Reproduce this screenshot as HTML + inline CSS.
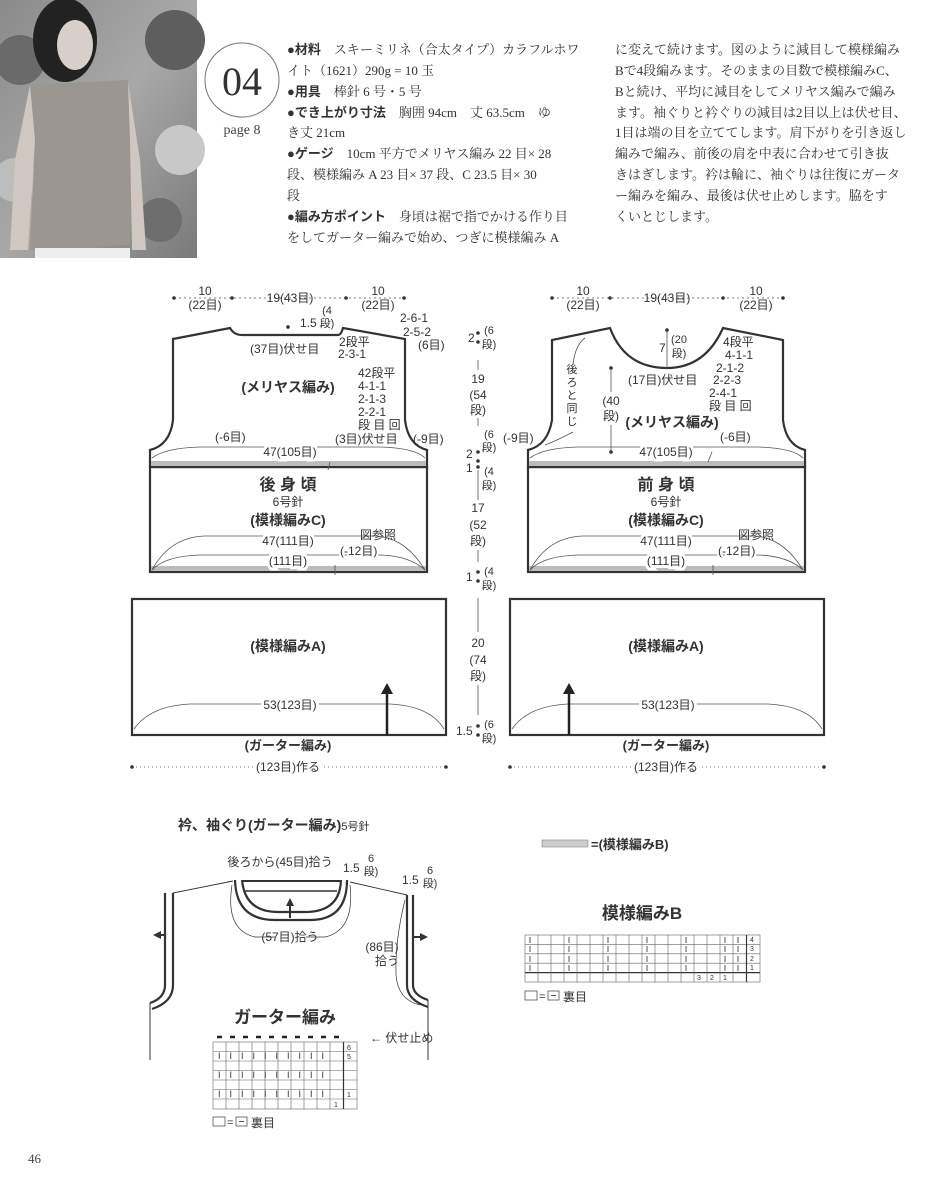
<!DOCTYPE html>
<html><head><meta charset="utf-8"><style>
html,body{margin:0;padding:0;background:#fff;}
svg{display:block;}
.s{font-family:"Liberation Sans","Noto Sans CJK JP",sans-serif;fill:#333;}
.j{font-family:"Liberation Serif","Noto Serif CJK SC",serif;fill:#333;font-size:13px;}
.b{font-weight:bold;}
</style></head><body>
<svg width="951" height="1200" viewBox="0 0 951 1200" xmlns="http://www.w3.org/2000/svg">
<defs>
<linearGradient id="pg" x1="0" y1="0" x2="1" y2="1"><stop offset="0" stop-color="#8a8a8a"/><stop offset="0.5" stop-color="#a8a8a8"/><stop offset="1" stop-color="#7a7a7a"/></linearGradient>
</defs>
<rect x="0" y="0" width="197" height="258" fill="url(#pg)"/>
<circle cx="20" cy="60" r="25" fill="#6a6a6a"/><circle cx="175" cy="40" r="30" fill="#5e5e5e"/><circle cx="180" cy="150" r="25" fill="#c8c8c8"/><circle cx="15" cy="180" r="22" fill="#bdbdbd"/><circle cx="160" cy="220" r="22" fill="#6e6e6e"/>
<ellipse cx="65" cy="40" rx="32" ry="42" fill="#222"/>
<ellipse cx="75" cy="45" rx="18" ry="25" fill="#d8d0c8"/>
<path d="M30 85 L128 80 L132 140 L130 245 L30 250 L35 140 Z" fill="#9c9690"/>
<path d="M30 85 L15 160 L10 250 L28 250 L35 140 Z" fill="#d0c8c0"/>
<path d="M128 82 L140 160 L146 250 L132 250 L130 140 Z" fill="#d0c8c0"/>
<rect x="35" y="248" width="95" height="10" fill="#eee"/>
<circle cx="242" cy="80" r="37" fill="none" stroke="#777" stroke-width="1"/>
<text x="242" y="95" text-anchor="middle" style="font-family:'Liberation Serif',serif;font-size:40px;fill:#333">04</text>
<text x="242" y="134" text-anchor="middle" style="font-family:'Liberation Serif',serif;font-size:14px;fill:#444">page 8</text>
<g class="j">
<text x="287" y="54"><tspan class="s b" style="font-size:13px">●材料</tspan>　スキーミリネ（合太タイプ）カラフルホワ</text>
<text x="287" y="75">イト（1621）290g = 10 玉</text>
<text x="287" y="96"><tspan class="s b" style="font-size:13px">●用具</tspan>　棒針 6 号・5 号</text>
<text x="287" y="117"><tspan class="s b" style="font-size:13px">●でき上がり寸法</tspan>　胸囲 94cm　丈 63.5cm　ゆ</text>
<text x="287" y="137">き丈 21cm</text>
<text x="287" y="158"><tspan class="s b" style="font-size:13px">●ゲージ</tspan>　10cm 平方でメリヤス編み 22 目× 28</text>
<text x="287" y="179">段、模様編み A 23 目× 37 段、C 23.5 目× 30</text>
<text x="287" y="200">段</text>
<text x="287" y="221"><tspan class="s b" style="font-size:13px">●編み方ポイント</tspan>　身頃は裾で指でかける作り目</text>
<text x="287" y="242">をしてガーター編みで始め、つぎに模様編み A</text>
<text x="615" y="54">に変えて続けます。図のように減目して模様編み</text>
<text x="615" y="75">Bで4段編みます。そのままの目数で模様編みC、</text>
<text x="615" y="96">Bと続け、平均に減目をしてメリヤス編みで編み</text>
<text x="615" y="117">ます。袖ぐりと衿ぐりの減目は2目以上は伏せ目、</text>
<text x="615" y="137">1目は端の目を立ててします。肩下がりを引き返し</text>
<text x="615" y="158">編みで編み、前後の肩を中表に合わせて引き抜</text>
<text x="615" y="179">きはぎします。衿は輪に、袖ぐりは往復にガータ</text>
<text x="615" y="200">ー編みを編み、最後は伏せ止めします。脇をす</text>
<text x="615" y="221">くいとじします。</text>
</g>

<g fill="none" stroke="#333" stroke-width="2.2">
<path d="M173 339 L230 328 Q234 335 242 335 L338 335 Q341 335 343 328 L405 339 L405 420 Q408 445 427 450 L427 467 L150 467 L150 450 Q170 445 173 420 Z"/>
<rect x="150" y="467" width="277" height="105"/>
<rect x="132" y="599" width="314" height="136"/>
<path d="M528 467 L528 450 Q548 445 552 420 L552 340 L610 328 Q625 368 667 368 Q705 368 723 328 L783 340 L783 420 Q786 445 805 450 L805 467 Z"/>
<rect x="528" y="467" width="277" height="105"/>
<rect x="510" y="599" width="314" height="136"/>
</g>
<g fill="#bbb">
<rect x="151" y="461" width="275" height="5"/><rect x="151" y="566" width="275" height="5"/>
<rect x="529" y="461" width="275" height="5"/><rect x="529" y="566" width="275" height="5"/>
</g>
<g fill="none" stroke="#555" stroke-width="0.8">
<path d="M152 458 Q165 448 200 447 L380 447 Q415 448 425 458"/>
<path d="M152 570 Q170 537 205 536 L375 536 Q405 537 425 570"/>
<path d="M152 570 Q165 556 200 555 L380 555 Q410 556 425 570"/>
<path d="M134 729 Q150 706 190 704 L390 704 Q430 706 444 729"/>
<path d="M530 458 Q543 448 578 447 L758 447 Q793 448 803 458"/>
<path d="M530 570 Q548 537 583 536 L753 536 Q783 537 803 570"/>
<path d="M530 570 Q543 556 578 555 L758 555 Q788 556 803 570"/>
<path d="M512 729 Q528 706 568 704 L768 704 Q808 706 822 729"/>
<line x1="132" y1="767" x2="446" y2="767" stroke-dasharray="1 3"/>
<line x1="510" y1="767" x2="824" y2="767" stroke-dasharray="1 3"/>
<line x1="174" y1="298" x2="404" y2="298" stroke-dasharray="2 3"/>
<line x1="552" y1="298" x2="783" y2="298" stroke-dasharray="2 3"/>
<line x1="478" y1="360" x2="478" y2="370"/><line x1="478" y1="418" x2="478" y2="426"/><line x1="478" y1="470" x2="478" y2="500"/><line x1="478" y1="550" x2="478" y2="562"/><line x1="478" y1="598" x2="478" y2="632"/><line x1="478" y1="685" x2="478" y2="715"/>
<line x1="667" y1="330" x2="667" y2="368"/><line x1="611" y1="370" x2="611" y2="392"/><line x1="611" y1="425" x2="611" y2="452"/>
<path d="M573 432 Q558 440 545 445"/><path d="M573 365 Q575 345 585 338"/>
<path d="M328 470 L330 462"/><path d="M335 565 L335 575"/>
<path d="M708 462 L712 452"/><path d="M713 565 L713 575"/>
</g>
<g fill="#333">
<circle cx="174" cy="298" r="1.8"/><circle cx="232" cy="298" r="1.8"/><circle cx="346" cy="298" r="1.8"/><circle cx="404" cy="298" r="1.8"/>
<circle cx="552" cy="298" r="1.8"/><circle cx="610" cy="298" r="1.8"/><circle cx="723" cy="298" r="1.8"/><circle cx="783" cy="298" r="1.8"/>
<circle cx="132" cy="767" r="1.8"/><circle cx="446" cy="767" r="1.8"/><circle cx="510" cy="767" r="1.8"/><circle cx="824" cy="767" r="1.8"/>
<circle cx="478" cy="333" r="1.8"/><circle cx="478" cy="342" r="1.8"/><circle cx="478" cy="452" r="1.8"/><circle cx="478" cy="461" r="1.8"/><circle cx="478" cy="467" r="1.8"/><circle cx="478" cy="572" r="1.8"/><circle cx="478" cy="581" r="1.8"/><circle cx="478" cy="726" r="1.8"/><circle cx="478" cy="735" r="1.8"/>
<circle cx="288" cy="327" r="1.8"/><circle cx="667" cy="330" r="1.8"/><circle cx="611" cy="368" r="1.8"/><circle cx="611" cy="452" r="1.8"/>
</g>
<g stroke="#222" stroke-width="2.5"><line x1="387" y1="735" x2="387" y2="692"/><line x1="569" y1="735" x2="569" y2="692"/></g>
<g fill="#222"><path d="M381 694 L387 683 L393 694 Z"/><path d="M563 694 L569 683 L575 694 Z"/></g>

<g class="s" font-size="12">
<text x="205" y="295" text-anchor="middle">10</text><text x="205" y="309" text-anchor="middle">(22目)</text>
<text x="290" y="302" text-anchor="middle">19(43目)</text>
<text x="378" y="295" text-anchor="middle">10</text><text x="378" y="309" text-anchor="middle">(22目)</text>
<text x="583" y="295" text-anchor="middle">10</text><text x="583" y="309" text-anchor="middle">(22目)</text>
<text x="667" y="302" text-anchor="middle">19(43目)</text>
<text x="756" y="295" text-anchor="middle">10</text><text x="756" y="309" text-anchor="middle">(22目)</text>
<text x="327" y="314" text-anchor="middle" font-size="11">(4</text><text x="327" y="327" text-anchor="middle" font-size="11">段)</text>
<text x="300" y="327">1.5</text>
<text x="400" y="322">2-6-1</text><text x="403" y="336">2-5-2</text><text x="418" y="349">(6目)</text>
<text x="250" y="353">(37目)伏せ目</text><text x="339" y="346">2段平</text><text x="338" y="358">2-3-1</text>
<text x="358" y="377">42段平</text><text x="358" y="390">4-1-1</text><text x="358" y="403">2-1-3</text><text x="358" y="416">2-2-1</text><text x="358" y="429">段 目 回</text>
<text x="335" y="443">(3目)伏せ目</text><text x="413" y="443">(-9目)</text><text x="215" y="441">(-6目)</text>
<text x="290" y="456" text-anchor="middle" paint-order="stroke" stroke="#fff" stroke-width="6">47(105目)</text>
<text x="288" y="392" text-anchor="middle" class="b" font-size="14">(メリヤス編み)</text>
<text x="288" y="490" text-anchor="middle" class="b" font-size="16">後 身 頃</text>
<text x="288" y="506" text-anchor="middle">6号針</text>
<text x="288" y="525" text-anchor="middle" class="b" font-size="14">(模様編みC)</text>
<text x="360" y="539">図参照</text>
<text x="288" y="545" text-anchor="middle" paint-order="stroke" stroke="#fff" stroke-width="6">47(111目)</text>
<text x="340" y="555" paint-order="stroke" stroke="#fff" stroke-width="4">(-12目)</text>
<text x="288" y="565" text-anchor="middle" paint-order="stroke" stroke="#fff" stroke-width="6">(111目)</text>
<text x="288" y="651" text-anchor="middle" class="b" font-size="14">(模様編みA)</text>
<text x="290" y="709" text-anchor="middle" paint-order="stroke" stroke="#fff" stroke-width="6">53(123目)</text>
<text x="288" y="750" text-anchor="middle" class="b" font-size="13">(ガーター編み)</text>
<text x="288" y="771" text-anchor="middle" paint-order="stroke" stroke="#fff" stroke-width="6">(123目)作る</text>
<text x="659" y="352">7</text><text x="679" y="343" text-anchor="middle" font-size="11">(20</text><text x="679" y="357" text-anchor="middle" font-size="11">段)</text>
<text x="723" y="346">4段平</text><text x="725" y="359">4-1-1</text><text x="716" y="372">2-1-2</text><text x="713" y="384">2-2-3</text><text x="709" y="397">2-4-1</text><text x="709" y="410">段 目 回</text>
<text x="628" y="384">(17目)伏せ目</text>
<text x="572" y="373" text-anchor="middle" font-size="11">後</text><text x="572" y="386" text-anchor="middle" font-size="11">ろ</text><text x="572" y="399" text-anchor="middle" font-size="11">と</text><text x="572" y="412" text-anchor="middle" font-size="11">同</text><text x="572" y="425" text-anchor="middle" font-size="11">じ</text>
<text x="611" y="405" text-anchor="middle">(40</text><text x="611" y="420" text-anchor="middle">段)</text>
<text x="672" y="427" text-anchor="middle" class="b" font-size="14">(メリヤス編み)</text>
<text x="503" y="442">(-9目)</text><text x="720" y="441">(-6目)</text>
<text x="666" y="456" text-anchor="middle" paint-order="stroke" stroke="#fff" stroke-width="6">47(105目)</text>
<text x="666" y="490" text-anchor="middle" class="b" font-size="16">前 身 頃</text>
<text x="666" y="506" text-anchor="middle">6号針</text>
<text x="666" y="525" text-anchor="middle" class="b" font-size="14">(模様編みC)</text>
<text x="738" y="539">図参照</text>
<text x="666" y="545" text-anchor="middle" paint-order="stroke" stroke="#fff" stroke-width="6">47(111目)</text>
<text x="718" y="555" paint-order="stroke" stroke="#fff" stroke-width="4">(-12目)</text>
<text x="666" y="565" text-anchor="middle" paint-order="stroke" stroke="#fff" stroke-width="6">(111目)</text>
<text x="666" y="651" text-anchor="middle" class="b" font-size="14">(模様編みA)</text>
<text x="668" y="709" text-anchor="middle" paint-order="stroke" stroke="#fff" stroke-width="6">53(123目)</text>
<text x="666" y="750" text-anchor="middle" class="b" font-size="13">(ガーター編み)</text>
<text x="666" y="771" text-anchor="middle" paint-order="stroke" stroke="#fff" stroke-width="6">(123目)作る</text>
<text x="468" y="342">2</text><text x="489" y="334" text-anchor="middle" font-size="11">(6</text><text x="489" y="348" text-anchor="middle" font-size="11">段)</text>
<text x="478" y="383" text-anchor="middle">19</text><text x="478" y="399" text-anchor="middle">(54</text><text x="478" y="414" text-anchor="middle">段)</text>
<text x="489" y="438" text-anchor="middle" font-size="11">(6</text><text x="489" y="451" text-anchor="middle" font-size="11">段)</text>
<text x="466" y="458">2</text><text x="466" y="472">1</text>
<text x="489" y="475" text-anchor="middle" font-size="11">(4</text><text x="489" y="489" text-anchor="middle" font-size="11">段)</text>
<text x="478" y="512" text-anchor="middle">17</text><text x="478" y="529" text-anchor="middle">(52</text><text x="478" y="545" text-anchor="middle">段)</text>
<text x="466" y="581">1</text><text x="489" y="575" text-anchor="middle" font-size="11">(4</text><text x="489" y="589" text-anchor="middle" font-size="11">段)</text>
<text x="478" y="647" text-anchor="middle">20</text><text x="478" y="664" text-anchor="middle">(74</text><text x="478" y="680" text-anchor="middle">段)</text>
<text x="456" y="735">1.5</text><text x="489" y="728" text-anchor="middle" font-size="11">(6</text><text x="489" y="742" text-anchor="middle" font-size="11">段)</text>
</g>

<text x="178" y="830" class="s b" font-size="14">衿、袖ぐり(ガーター編み)<tspan font-size="11" font-weight="normal">5号針</tspan></text>
<g fill="none" stroke="#333">
<line x1="173" y1="893" x2="233" y2="881" stroke-width="0.9"/><line x1="350" y1="882" x2="407" y2="895" stroke-width="0.9"/>
<path d="M235 880 Q236 920 275 920 L310 920 Q347 920 347 880" stroke-width="2.2"/>
<path d="M242 880 Q245 912 278 912 L305 912 Q340 912 341 880" stroke-width="2.2"/>
<line x1="242" y1="881" x2="341" y2="881" stroke-width="2"/>
<line x1="245" y1="891" x2="337" y2="891" stroke-width="1.5"/>
<path d="M165 893 L165 985 Q165 998 150 1003" stroke-width="2.2"/><path d="M173 893 L173 985 Q173 1002 152 1009" stroke-width="2.2"/>
<line x1="150" y1="1003" x2="150" y2="1060" stroke-width="1"/>
<path d="M407 895 L407 985 Q407 1000 428 1007" stroke-width="2.2"/><path d="M413 895 L413 985 Q413 995 428 1000" stroke-width="2.2"/>
<line x1="428" y1="1000" x2="428" y2="1060" stroke-width="1"/>
<path d="M232 885 Q225 930 255 937 L275 937" stroke-width="0.7"/><path d="M306 937 L325 937 Q355 930 350 885" stroke-width="0.7"/>
<path d="M405 900 Q395 940 396 975 Q398 1000 420 1005" stroke-width="0.7"/>
<line x1="157" y1="935" x2="165" y2="935" stroke-width="2"/><line x1="413" y1="937" x2="422" y2="937" stroke-width="2"/>
<line x1="290" y1="918" x2="290" y2="905" stroke-width="2"/>
</g>
<g fill="#333"><path d="M161 931 L153 935 L161 939 Z"/><path d="M420 933 L428 937 L420 941 Z"/><path d="M286 906 L290 898 L294 906 Z"/></g>
<g class="s" font-size="12">
<text x="280" y="866" text-anchor="middle">後ろから(45目)拾う</text>
<text x="343" y="872">1.5</text><text x="371" y="862" text-anchor="middle" font-size="11">6</text><text x="371" y="875" text-anchor="middle" font-size="11">段)</text>
<text x="402" y="884">1.5</text><text x="430" y="874" text-anchor="middle" font-size="11">6</text><text x="430" y="887" text-anchor="middle" font-size="11">段)</text>
<text x="290" y="941" text-anchor="middle">(57目)拾う</text>
<text x="382" y="951" text-anchor="middle">(86目)</text><text x="387" y="965" text-anchor="middle">拾う</text>
<text x="285" y="1023" text-anchor="middle" class="b" font-size="17">ガーター編み</text>
<text x="370" y="1042">← 伏せ止め</text>
</g>
<g stroke="#666" stroke-width="0.6" fill="none">
<rect x="213" y="1042" width="144" height="67"/>
<line x1="213" y1="1051.5" x2="357" y2="1051.5"/><line x1="213" y1="1061" x2="357" y2="1061"/><line x1="213" y1="1070.5" x2="357" y2="1070.5"/><line x1="213" y1="1080" x2="357" y2="1080"/><line x1="213" y1="1089.5" x2="357" y2="1089.5"/><line x1="213" y1="1099" x2="357" y2="1099"/>
<line x1="226" y1="1042" x2="226" y2="1109"/><line x1="239" y1="1042" x2="239" y2="1109"/><line x1="252" y1="1042" x2="252" y2="1109"/><line x1="265" y1="1042" x2="265" y2="1109"/><line x1="278" y1="1042" x2="278" y2="1109"/><line x1="291" y1="1042" x2="291" y2="1109"/><line x1="304" y1="1042" x2="304" y2="1109"/><line x1="317" y1="1042" x2="317" y2="1109"/><line x1="330" y1="1042" x2="330" y2="1109"/>
<line x1="343.5" y1="1042" x2="343.5" y2="1109" stroke="#333" stroke-width="1.2"/>
</g>
<g stroke="#222" stroke-width="2.5"><line x1="217" y1="1037" x2="222" y2="1037"/><line x1="230" y1="1037" x2="235" y2="1037"/><line x1="243" y1="1037" x2="248" y2="1037"/><line x1="256" y1="1037" x2="261" y2="1037"/><line x1="269" y1="1037" x2="274" y2="1037"/><line x1="282" y1="1037" x2="287" y2="1037"/><line x1="295" y1="1037" x2="300" y2="1037"/><line x1="308" y1="1037" x2="313" y2="1037"/><line x1="321" y1="1037" x2="326" y2="1037"/><line x1="334" y1="1037" x2="339" y2="1037"/></g>
<g class="s" font-size="9" fill="#444">
<text x="218" y="1059">I　I　I　I　I　I　I　I　I　I</text>
<text x="218" y="1078">I　I　I　I　I　I　I　I　I　I</text>
<text x="218" y="1097">I　I　I　I　I　I　I　I　I　I</text>
<text x="347" y="1050" font-size="7">6</text><text x="347" y="1059" font-size="7">5</text><text x="347" y="1097" font-size="7">1</text><text x="334" y="1107" font-size="7">1</text>
</g>
<rect x="213" y="1117" width="12" height="9" fill="none" stroke="#555" stroke-width="0.8"/><rect x="236" y="1117" width="11" height="9" fill="none" stroke="#555" stroke-width="0.8"/><line x1="239" y1="1121.5" x2="244" y2="1121.5" stroke="#555"/>
<text x="227" y="1126" class="s" font-size="11">=</text><text x="251" y="1127" class="s" font-size="12">裏目</text>

<rect x="542" y="840" width="46" height="7" fill="#ccc" stroke="#888" stroke-width="0.6"/>
<text x="591" y="849" class="s b" font-size="13">=(模様編みB)</text>
<text x="642" y="919" text-anchor="middle" class="s b" font-size="17">模様編みB</text>
<g stroke="#666" stroke-width="0.6" fill="none">
<rect x="525" y="935" width="235" height="47"/>
<line x1="525" y1="944.4" x2="760" y2="944.4"/><line x1="525" y1="953.8" x2="760" y2="953.8"/><line x1="525" y1="963.2" x2="760" y2="963.2"/><line x1="525" y1="972.6" x2="760" y2="972.6" stroke="#333" stroke-width="1.2"/>
<line x1="538" y1="935" x2="538" y2="982"/><line x1="551" y1="935" x2="551" y2="982"/><line x1="564" y1="935" x2="564" y2="982"/><line x1="577" y1="935" x2="577" y2="982"/><line x1="590" y1="935" x2="590" y2="982"/><line x1="603" y1="935" x2="603" y2="982"/><line x1="616" y1="935" x2="616" y2="982"/><line x1="629" y1="935" x2="629" y2="982"/><line x1="642" y1="935" x2="642" y2="982"/><line x1="655" y1="935" x2="655" y2="982"/><line x1="668" y1="935" x2="668" y2="982"/><line x1="681" y1="935" x2="681" y2="982"/><line x1="694" y1="935" x2="694" y2="982"/><line x1="707" y1="935" x2="707" y2="982"/><line x1="720" y1="935" x2="720" y2="982"/><line x1="733" y1="935" x2="733" y2="982"/>
<line x1="746.5" y1="935" x2="746.5" y2="982" stroke="#333" stroke-width="1.2"/>
</g>
<g stroke="#444" stroke-width="0.9">
<path d="M530 937v6M530 946v6M530 956v6M530 965v6 M569 937v6M569 946v6M569 956v6M569 965v6 M608 937v6M608 946v6M608 956v6M608 965v6 M647 937v6M647 946v6M647 956v6M647 965v6 M686 937v6M686 946v6M686 956v6M686 965v6 M725 937v6M725 946v6M725 956v6M725 965v6 M738 937v6M738 946v6M738 956v6M738 965v6"/>
</g>
<g class="s" font-size="7" fill="#444"><text x="750" y="942">4</text><text x="750" y="951">3</text><text x="750" y="961">2</text><text x="750" y="970">1</text><text x="697" y="980">3</text><text x="710" y="980">2</text><text x="723" y="980">1</text></g>
<rect x="525" y="991" width="12" height="9" fill="none" stroke="#555" stroke-width="0.8"/><rect x="548" y="991" width="11" height="9" fill="none" stroke="#555" stroke-width="0.8"/><line x1="551" y1="995.5" x2="556" y2="995.5" stroke="#555"/>
<text x="539" y="1000" class="s" font-size="11">=</text><text x="563" y="1001" class="s" font-size="12">裏目</text>

<text x="28" y="1163" style="font-family:'Liberation Serif',serif;font-size:13px;fill:#444">46</text>
</svg>
</body></html>
